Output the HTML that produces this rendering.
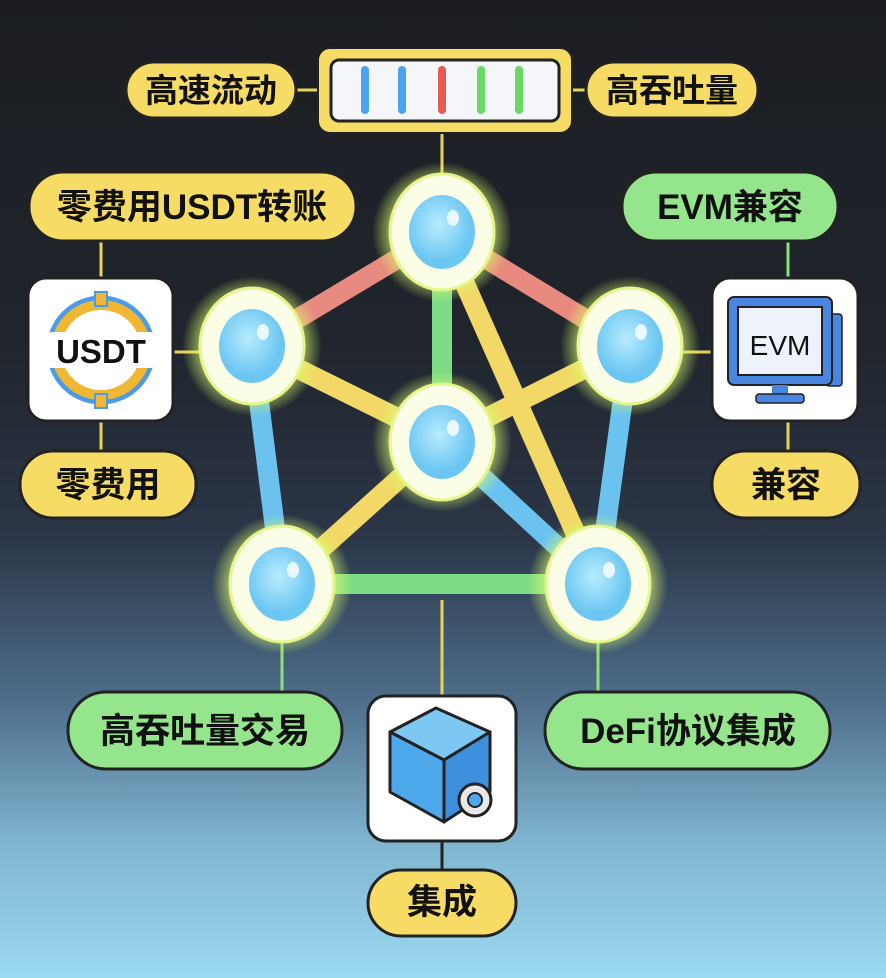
<!DOCTYPE html>
<html style="background:#9bdaf0"><head><meta charset="utf-8"><style>
html,body{margin:0;padding:0;width:886px;height:978px;overflow:hidden}
body{background:linear-gradient(180deg,#1b1d21 0%,#20252d 35%,#2c3648 55%,#4f6f8c 72%,#7fb4cf 86%,#9bdaf0 100%)}
svg{display:block}
svg text{font-family:"Liberation Sans","Noto Sans CJK SC",sans-serif;font-weight:bold;fill:#111}
</style></head><body>
<svg width="886" height="978" viewBox="0 0 886 978" xmlns="http://www.w3.org/2000/svg">
<defs>
<radialGradient id="glow"><stop offset="0.6" stop-color="#f0ff9a" stop-opacity="1"/><stop offset="0.8" stop-color="#dcff70" stop-opacity="0.45"/><stop offset="1" stop-color="#d8ff60" stop-opacity="0"/></radialGradient>
<radialGradient id="ball" cx="0.45" cy="0.4"><stop offset="0" stop-color="#b8ecff"/><stop offset="1" stop-color="#6cc6f2"/></radialGradient>
</defs>
<g stroke-width="3">
<line x1="442" y1="132" x2="442" y2="190" stroke="#e8d35a"/>
<line x1="101" y1="240" x2="101" y2="280" stroke="#e8d35a"/>
<line x1="101" y1="420" x2="101" y2="452" stroke="#e8d35a"/>
<line x1="172" y1="352" x2="205" y2="352" stroke="#e8d35a"/>
<line x1="788" y1="240" x2="788" y2="280" stroke="#8ee07a"/>
<line x1="788" y1="420" x2="788" y2="452" stroke="#e8d35a"/>
<line x1="676" y1="352" x2="712" y2="352" stroke="#e8d35a"/>
<line x1="296" y1="90" x2="318" y2="90" stroke="#e8d35a"/>
<line x1="572" y1="90" x2="586" y2="90" stroke="#e8d35a"/>
<line x1="282" y1="630" x2="282" y2="694" stroke="#8ee07a"/>
<line x1="598" y1="630" x2="598" y2="694" stroke="#8ee07a"/>
<line x1="442" y1="600" x2="442" y2="697" stroke="#e8d35a"/>
<line x1="442" y1="840" x2="442" y2="872" stroke="#222"/>
</g>
<g stroke-width="20" stroke-linecap="butt">
<line x1="442" y1="232" x2="252" y2="346" stroke="#e98a80"/>
<line x1="442" y1="232" x2="630" y2="346" stroke="#e98a80"/>
<line x1="442" y1="232" x2="442" y2="440" stroke="#7fdc86"/>
<line x1="442" y1="232" x2="598" y2="584" stroke="#f1d867"/>
<line x1="252" y1="346" x2="442" y2="440" stroke="#f1d867"/>
<line x1="630" y1="346" x2="442" y2="440" stroke="#f1d867"/>
<line x1="252" y1="346" x2="282" y2="584" stroke="#6cc2ef"/>
<line x1="630" y1="346" x2="598" y2="584" stroke="#6cc2ef"/>
<line x1="442" y1="440" x2="282" y2="584" stroke="#f1d867"/>
<line x1="442" y1="440" x2="598" y2="584" stroke="#6cc2ef"/>
<line x1="282" y1="584" x2="598" y2="584" stroke="#7fdc86"/>
</g>
<g>
<g transform="translate(442,232)"><circle r="70" fill="url(#glow)"/><ellipse rx="52" ry="58" fill="#fbfde6" stroke="#e6f58a" stroke-width="3"/><ellipse rx="33" ry="37" fill="url(#ball)"/><ellipse cx="11" cy="-14" rx="6" ry="8" fill="#eaf8ff"/></g>
<g transform="translate(252,346)"><circle r="70" fill="url(#glow)"/><ellipse rx="52" ry="58" fill="#fbfde6" stroke="#e6f58a" stroke-width="3"/><ellipse rx="33" ry="37" fill="url(#ball)"/><ellipse cx="11" cy="-14" rx="6" ry="8" fill="#eaf8ff"/></g>
<g transform="translate(630,346)"><circle r="70" fill="url(#glow)"/><ellipse rx="52" ry="58" fill="#fbfde6" stroke="#e6f58a" stroke-width="3"/><ellipse rx="33" ry="37" fill="url(#ball)"/><ellipse cx="11" cy="-14" rx="6" ry="8" fill="#eaf8ff"/></g>
<g transform="translate(442,442)"><circle r="70" fill="url(#glow)"/><ellipse rx="52" ry="58" fill="#fbfde6" stroke="#e6f58a" stroke-width="3"/><ellipse rx="33" ry="37" fill="url(#ball)"/><ellipse cx="11" cy="-14" rx="6" ry="8" fill="#eaf8ff"/></g>
<g transform="translate(282,584)"><circle r="70" fill="url(#glow)"/><ellipse rx="52" ry="58" fill="#fbfde6" stroke="#e6f58a" stroke-width="3"/><ellipse rx="33" ry="37" fill="url(#ball)"/><ellipse cx="11" cy="-14" rx="6" ry="8" fill="#eaf8ff"/></g>
<g transform="translate(598,584)"><circle r="70" fill="url(#glow)"/><ellipse rx="52" ry="58" fill="#fbfde6" stroke="#e6f58a" stroke-width="3"/><ellipse rx="33" ry="37" fill="url(#ball)"/><ellipse cx="11" cy="-14" rx="6" ry="8" fill="#eaf8ff"/></g>
</g>
<rect x="318" y="48" width="254" height="85" rx="12" fill="#f6dc64" stroke="#222" stroke-width="2"/>
<rect x="331" y="60" width="228" height="61" rx="8" fill="#f4f6fa" stroke="#222" stroke-width="3"/>
<g stroke-width="8" stroke-linecap="round">
<line x1="365" y1="70" x2="365" y2="110" stroke="#4aa3ee"/>
<line x1="402" y1="70" x2="402" y2="110" stroke="#4aa3ee"/>
<line x1="442" y1="70" x2="442" y2="110" stroke="#e8594f"/>
<line x1="481" y1="70" x2="481" y2="110" stroke="#6ad866"/>
<line x1="519" y1="70" x2="519" y2="110" stroke="#6ad866"/>
</g>
<g stroke="#222" stroke-width="3">
<rect x="126" y="62" width="170" height="56" rx="28" fill="#f6dc64"/>
<rect x="586" y="62" width="172" height="56" rx="28" fill="#f6dc64"/>
<rect x="29" y="172" width="327" height="69" rx="34" fill="#f6dc64"/>
<rect x="622" y="172" width="216" height="69" rx="34" fill="#95e58d"/>
<rect x="20" y="451" width="176" height="67" rx="33" fill="#f6dc64"/>
<rect x="712" y="451" width="148" height="67" rx="33" fill="#f6dc64"/>
<rect x="68" y="692" width="274" height="77" rx="38" fill="#95e58d"/>
<rect x="545" y="692" width="285" height="77" rx="38" fill="#95e58d"/>
<rect x="368" y="870" width="148" height="66" rx="33" fill="#f6dc64"/>
<rect x="28" y="278" width="145" height="143" rx="18" fill="#fff"/>
<rect x="712" y="278" width="146" height="143" rx="18" fill="#fff"/>
<rect x="368" y="696" width="148" height="145" rx="18" fill="#fff"/>
</g>
<g font-size="33" text-anchor="middle">
<text x="211" y="102">高速流动</text>
<text x="672" y="102">高吞吐量</text>
<text x="192" y="219" font-size="35">零费用USDT转账</text>
<text x="730" y="219" font-size="35">EVM兼容</text>
<text x="108" y="497" font-size="35">零费用</text>
<text x="786" y="497" font-size="35">兼容</text>
<text x="205" y="743" font-size="35">高吞吐量交易</text>
<text x="688" y="743" font-size="35">DeFi协议集成</text>
<text x="442" y="914" font-size="35">集成</text>
</g>
<circle cx="101" cy="350" r="52" fill="none" stroke="#4a9be8" stroke-width="5"/>
<circle cx="101" cy="350" r="45" fill="none" stroke="#f0b735" stroke-width="10"/>
<rect x="95" y="292" width="12" height="14" fill="#f0b735" stroke="#4a9be8" stroke-width="2"/>
<rect x="95" y="394" width="12" height="14" fill="#f0b735" stroke="#4a9be8" stroke-width="2"/>
<rect x="46" y="332" width="110" height="36" rx="6" fill="#fff"/>
<text x="101" y="363" font-size="33" text-anchor="middle">USDT</text>
<rect x="826" y="314" width="16" height="72" rx="3" fill="#4a86e0" stroke="#222" stroke-width="1.5"/>
<rect x="728" y="297" width="104" height="88" rx="6" fill="#4a86e0" stroke="#222" stroke-width="2"/>
<rect x="738" y="307" width="84" height="68" fill="#eef2fb" stroke="#222" stroke-width="2"/>
<text x="780" y="355" font-size="28" text-anchor="middle" style="font-weight:normal">EVM</text>
<rect x="772" y="385" width="16" height="10" fill="#4a86e0"/>
<rect x="756" y="394" width="48" height="9" rx="3" fill="#4a86e0" stroke="#222" stroke-width="1.5"/>
<g stroke="#222" stroke-width="3" stroke-linejoin="round">
<polygon points="390,732 436,708 490,732 444,760" fill="#7cc8f2"/>
<polygon points="390,732 444,760 444,822 390,792" fill="#4da8ec"/>
<polygon points="444,760 490,732 490,792 444,822" fill="#3f8fdf"/>
</g>
<circle cx="475" cy="800" r="16" fill="#e8e8e8" stroke="#222" stroke-width="3"/>
<circle cx="475" cy="800" r="7" fill="#4da8ec" stroke="#222" stroke-width="2"/>
</svg>
</body></html>
